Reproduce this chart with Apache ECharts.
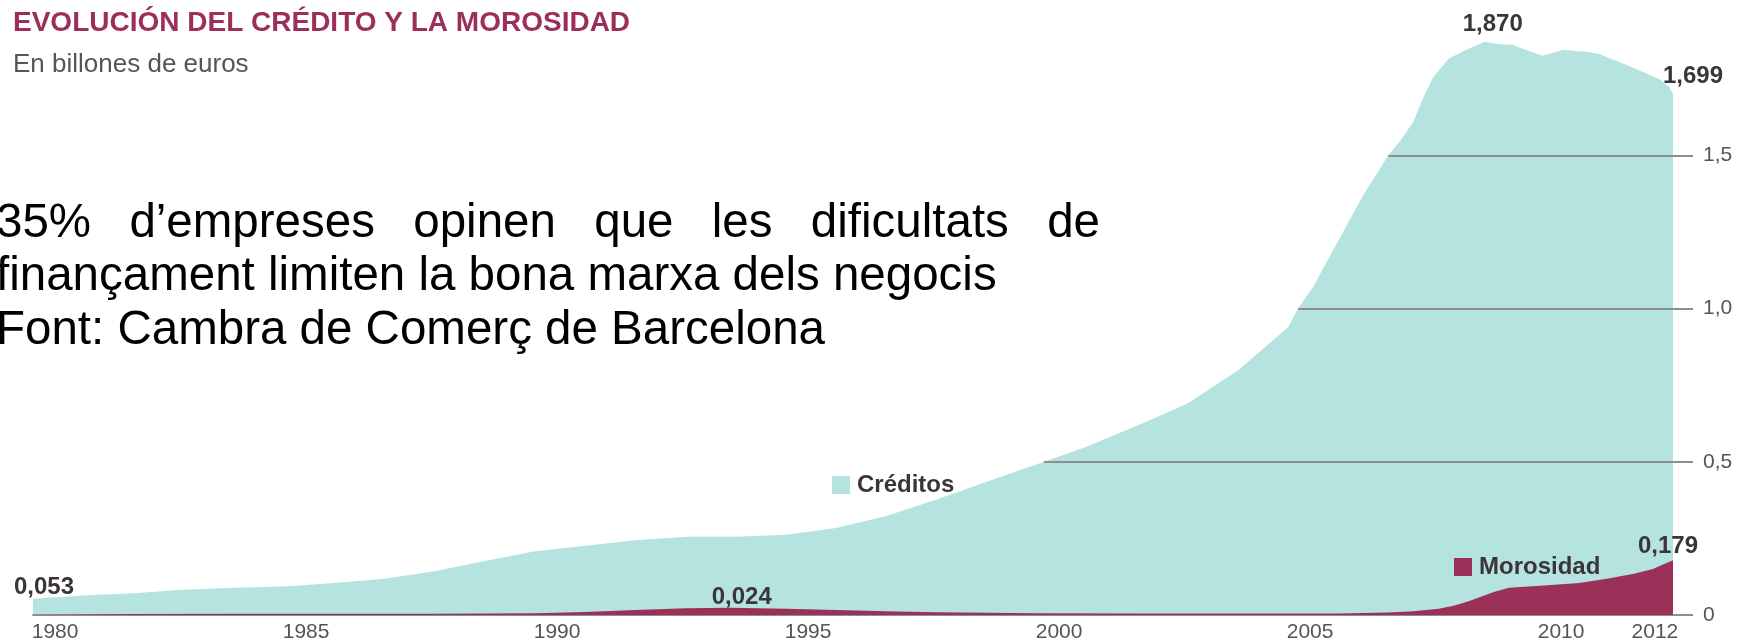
<!DOCTYPE html>
<html><head><meta charset="utf-8">
<script src="https://cdn.jsdelivr.net/npm/echarts@6/dist/echarts.min.js"></script>
<style>html,body{margin:0;padding:0;background:#fff;}#c{width:1737px;height:643px;}</style>
</head><body><div id="c"></div>
<script>
// ---- data (billones de euros) ----
const creditYears = [1980, 1981, 1982, 1983, 1984, 1985, 1986, 1987, 1988, 1989, 1990, 1991, 1992, 1993, 1994, 1995, 1996, 1997, 1998, 1999, 2000, 2001, 2002, 2003, 2004, 2005, 2005.2, 2005.5, 2006, 2006.5, 2007, 2007.25, 2007.5, 2007.7, 2007.9, 2008.2, 2008.5, 2008.92, 2009.2, 2009.48, 2009.8, 2010.08, 2010.3, 2010.48, 2010.7, 2010.96, 2011.2, 2011.47, 2011.87, 2012.1, 2012.41, 2012.6, 2012.67];
const creditValues = [0.053, 0.064, 0.071, 0.082, 0.089, 0.093, 0.104, 0.118, 0.143, 0.176, 0.208, 0.226, 0.244, 0.255, 0.255, 0.262, 0.284, 0.323, 0.377, 0.435, 0.492, 0.550, 0.618, 0.690, 0.798, 0.938, 1.00, 1.07, 1.22, 1.37, 1.50, 1.55, 1.61, 1.69, 1.756, 1.815, 1.840, 1.870, 1.862, 1.860, 1.84, 1.825, 1.835, 1.844, 1.84, 1.838, 1.83, 1.812, 1.786, 1.77, 1.747, 1.721, 1.699];
const morosYears = [1980, 1982, 1984, 1986, 1988, 1989, 1990, 1991, 1992, 1993, 1993.9, 1995, 1996, 1997, 1998, 1999, 2000, 2002, 2004, 2006, 2007, 2007.5, 2008, 2008.3, 2008.6, 2009.1, 2009.4, 2010.1, 2010.8, 2011.35, 2011.87, 2012.27, 2012.47, 2012.67];
const morosValues = [0.002, 0.003, 0.004, 0.004, 0.004, 0.005, 0.006, 0.010, 0.016, 0.022, 0.024, 0.020, 0.016, 0.012, 0.009, 0.007, 0.006, 0.005, 0.005, 0.005, 0.008, 0.012, 0.020, 0.030, 0.045, 0.075, 0.089, 0.096, 0.104, 0.118, 0.134, 0.150, 0.165, 0.179];
const xTickYears = [1980.44, 1985.44, 1990.44, 1995.44, 2000.44, 2005.44, 2010.44, 2012.31];
const xTickLabels = ['1980', '1985', '1990', '1995', '2000', '2005', '2010', '2012'];
const yTickValues = [0, 0.5, 1, 1.5];
const gridLevels = [0.5, 1, 1.5];
const seriesNames = ['Créditos', 'Morosidad'];
const titleText = 'EVOLUCIÓN DEL CRÉDITO Y LA MOROSIDAD';
const subtitleText = 'En billones de euros';
const noteLines = ['35% d’empreses opinen que les dificultats de', 'finançament limiten la bona marxa dels negocis', 'Font: Cambra de Comerç de Barcelona'];

// ---- helpers ----
const FAM = '"Liberation Sans", Arial, Helvetica, sans-serif';
const TEAL = '#b5e3e0', MAROON = '#9b3159', LABEL = '#3b3539', AXIS = '#8e8e8e';
const pairs = (xs, ys) => xs.map((x, i) => [x, ys[i]]);
const fmt3 = v => v.toFixed(3).replace('.', ',');
const fmtY = v => v === 0 ? '0' : v.toFixed(1).replace('.', ',');
const xMin = creditYears[0], xMax = creditYears[creditYears.length - 1];

function crossing(level) {
  for (let i = 1; i < creditValues.length; i++) {
    if (creditValues[i] >= level) {
      const t = (level - creditValues[i - 1]) / (creditValues[i] - creditValues[i - 1]);
      return creditYears[i - 1] + t * (creditYears[i] - creditYears[i - 1]);
    }
  }
  return xMax;
}
const argmax = (arr, pred) => { let b = -1; arr.forEach((v, i) => { if (pred(i) && (b < 0 || v > arr[b])) b = i; }); return b; };
const cMax = argmax(creditValues, () => true);
const cLast = creditValues.length - 1;
const mPeak = argmax(morosValues, i => morosYears[i] < 2000);
const mLast = morosValues.length - 1;

const labelStyle = { fontFamily: FAM, fontSize: 24, fontWeight: 'bold', color: LABEL };
function pt(xs, ys, i, off) {
  return { coord: [xs[i], ys[i]], value: ys[i], label: Object.assign({ show: true, position: 'inside', offset: off, formatter: () => fmt3(ys[i]) }, labelStyle) };
}

// ---- justified note text ----
const noteSize = 47.5, noteScaleX = 1, noteLeft = -4, noteRight = 1100, noteY = [224, 277, 331];
const noteFont = noteSize + 'px ' + FAM;
const ctx = document.createElement('canvas').getContext('2d');
ctx.font = noteFont;
const graphics = [];
const w0 = noteLines[0].split(' ');
const ws = w0.map(w => ctx.measureText(w).width * noteScaleX);
const gap = (noteRight - noteLeft - ws.reduce((a, b) => a + b, 0)) / (w0.length - 1);
let cx = noteLeft;
w0.forEach((w, i) => {
  graphics.push({ type: 'text', x: cx, y: noteY[0], scaleX: noteScaleX, z: 100,
    style: { text: w, font: noteFont, fill: '#000', textVerticalAlign: 'middle', verticalAlign: 'middle' } });
  cx += ws[i] + gap;
});
for (let l = 1; l < noteLines.length; l++) {
  graphics.push({ type: 'text', x: noteLeft, y: noteY[l], scaleX: noteScaleX, z: 100,
    style: { text: noteLines[l], font: noteFont, fill: '#000', textVerticalAlign: 'middle', verticalAlign: 'middle' } });
}
graphics.push({ type: 'text', x: 13, y: 23, z: 100,
  style: { text: titleText, font: 'bold 28px ' + FAM, fill: '#9b2f5a', textVerticalAlign: 'middle', verticalAlign: 'middle' } });
graphics.push({ type: 'text', x: 13, y: 65, z: 100,
  style: { text: subtitleText, font: '26px ' + FAM, fill: '#555', textVerticalAlign: 'middle', verticalAlign: 'middle' } });

const chart = echarts.init(document.getElementById('c'), null, { renderer: 'canvas' });
chart.setOption({
  animation: false,
  backgroundColor: '#fff',
  grid: { left: 33, right: 64, top: 2, bottom: 25, containLabel: false },
  graphic: graphics,
  legend: [
    { data: [seriesNames[0]], left: 827, top: 468, icon: 'rect', itemWidth: 18, itemHeight: 18, selectedMode: false, textStyle: Object.assign({}, labelStyle, { padding: [0, 0, 0, 2] }) },
    { data: [seriesNames[1]], left: 1449, top: 550, icon: 'rect', itemWidth: 18, itemHeight: 18, selectedMode: false, textStyle: Object.assign({}, labelStyle, { padding: [0, 0, 0, 2] }) }
  ],
  xAxis: {
    type: 'value', min: xMin, max: xMax,
    axisLine: { show: true, lineStyle: { color: AXIS, width: 2 } },
    axisTick: { show: false }, splitLine: { show: false },
    axisLabel: {
      customValues: xTickYears, margin: 7, fontFamily: FAM, fontSize: 21, color: '#555',
      formatter: v => { let b = 0; xTickYears.forEach((t, i) => { if (Math.abs(t - v) < Math.abs(xTickYears[b] - v)) b = i; }); return xTickLabels[b]; }
    }
  },
  yAxis: {
    type: 'value', position: 'right', min: 0, max: 2,
    axisLine: { show: false }, splitLine: { show: false },
    axisTick: { show: true, customValues: yTickValues, length: 20, lineStyle: { color: AXIS, width: 2 } },
    axisLabel: { customValues: yTickValues, margin: 30, fontFamily: FAM, fontSize: 21, color: '#555', formatter: fmtY }
  },
  series: [
    {
      name: seriesNames[0], type: 'line', data: pairs(creditYears, creditValues), symbol: 'none', z: 2,
      itemStyle: { color: TEAL }, lineStyle: { width: 0, opacity: 0 }, areaStyle: { color: TEAL, opacity: 1 },
      markLine: {
        silent: true, symbol: ['none', 'none'], label: { show: false },
        lineStyle: { color: AXIS, width: 2, type: 'solid' },
        data: gridLevels.map(l => [{ coord: [crossing(l), l] }, { coord: [xMax, l] }])
      },
      markPoint: {
        symbol: 'circle', symbolSize: 0, silent: true,
        data: [pt(creditYears, creditValues, 0, [11, -11]), pt(creditYears, creditValues, cMax, [8, -17]), pt(creditYears, creditValues, cLast, [20, -18])]
      }
    },
    {
      name: seriesNames[1], type: 'line', data: pairs(morosYears, morosValues), symbol: 'none', z: 3,
      itemStyle: { color: MAROON }, lineStyle: { width: 0, opacity: 0 }, areaStyle: { color: MAROON, opacity: 1 },
      markPoint: {
        symbol: 'circle', symbolSize: 0, silent: true,
        data: [pt(morosYears, morosValues, mPeak, [11, -10]), pt(morosYears, morosValues, mLast, [-5, -14])]
      }
    }
  ]
});
</script></body></html>
